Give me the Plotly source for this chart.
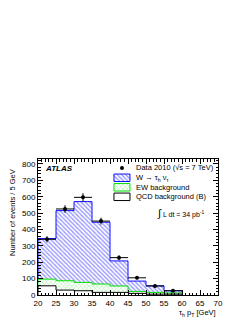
import plotly.graph_objects as go

# ---- data ----
bin_edges = [20, 25, 30, 35, 40, 45, 50, 55, 60]
data_counts = [340, 525, 596, 451, 228, 105, 55, 26]
data_err = [19, 23, 25, 21, 15, 10, 8, 5]
qcd_bkg = [56, 30, 26, 16, 16, 10, 5, 5]
ew_bkg = [41, 57, 51, 51, 39, 12, 11, 7]
w_signal = [248, 428, 493, 377, 153, 63, 40, 14]

x_ticks = [20, 25, 30, 35, 40, 45, 50, 55, 60, 65, 70]
y_ticks = [0, 100, 200, 300, 400, 500, 600, 700, 800]

legend_labels = ["Data 2010 (√s = 7 TeV)", "W → τ<sub>h</sub> ν<sub>τ</sub>",
                 "EW background", "QCD background (B)"]

FONT = "Liberation Sans, Arial, Helvetica, sans-serif"

BLUE_LINE, BLUE_HATCH = "#1010ff", "#3030ff"
GREEN_LINE, GREEN_HATCH = "#00e000", "#33dd33"

centers = [(a + b) / 2 for a, b in zip(bin_edges[:-1], bin_edges[1:])]
half_w = [(b - a) / 2 for a, b in zip(bin_edges[:-1], bin_edges[1:])]

cum_qcd = list(qcd_bkg)
cum_ew = [q + e for q, e in zip(qcd_bkg, ew_bkg)]
cum_tot = [c + s for c, s in zip(cum_ew, w_signal)]


def step(vals):
    xs = [bin_edges[0]] + list(bin_edges) + [bin_edges[-1]]
    ys = [0] + list(vals) + [vals[-1], 0]
    return xs, ys


blue_pat = dict(shape="\\", fgcolor=BLUE_HATCH, bgcolor="white", size=3, solidity=0.45)
green_pat = dict(shape="x", fgcolor=GREEN_HATCH, bgcolor="white", size=3, solidity=0.3)

fig = go.Figure()

xs, ys = step(cum_tot)
fig.add_trace(go.Scatter(x=xs, y=ys, mode="lines",
                         line=dict(shape="hv", color=BLUE_LINE, width=1),
                         fill="tozeroy", fillcolor="white", fillpattern=blue_pat,
                         showlegend=False))
xs, ys = step(cum_ew)
fig.add_trace(go.Scatter(x=xs, y=ys, mode="lines",
                         line=dict(shape="hv", color=GREEN_LINE, width=1),
                         fill="tozeroy", fillcolor="white", fillpattern=green_pat,
                         showlegend=False))
xs, ys = step(cum_qcd)
fig.add_trace(go.Scatter(x=xs, y=ys, mode="lines",
                         line=dict(shape="hv", color="black", width=1),
                         fill="tozeroy", fillcolor="white", showlegend=False))
fig.add_trace(go.Scatter(
    x=centers, y=data_counts, mode="markers",
    marker=dict(color="black", size=4),
    error_x=dict(type="data", array=half_w, width=0, thickness=1, color="black"),
    error_y=dict(type="data", array=data_err, width=0, thickness=1, color="black"),
    showlegend=False))

# ---- hand-made legend on an overlay axis (0..1 in both directions) ----
LX0, LX1, LTX = 0.422, 0.511, 0.535
row_y = [0.934, 0.862, 0.792, 0.722]
box_h = 0.055
fig.add_trace(go.Scatter(x=[(LX0 + LX1) / 2], y=[row_y[0]], mode="markers",
                         marker=dict(color="black", size=4), xaxis="x2", yaxis="y2",
                         showlegend=False, hoverinfo="skip"))
box_styles = [
    (BLUE_LINE, blue_pat),
    (GREEN_LINE, green_pat),
    ("black", None),
]
for (lc, pat), yc in zip(box_styles, row_y[1:]):
    kw = dict(fillpattern=pat) if pat else {}
    fig.add_trace(go.Scatter(
        x=[LX0, LX1, LX1, LX0, LX0],
        y=[yc - box_h / 2, yc - box_h / 2, yc + box_h / 2, yc + box_h / 2, yc - box_h / 2],
        mode="lines", line=dict(color=lc, width=1), fill="toself", fillcolor="white",
        xaxis="x2", yaxis="y2", showlegend=False, hoverinfo="skip", **kw))

annotations = []
for lab, yc in zip(legend_labels, row_y):
    annotations.append(dict(text=lab, x=LTX, y=yc, xref="x2", yref="y2",
                            xanchor="left", yanchor="middle", showarrow=False,
                            font=dict(family=FONT, size=7.5, color="black")))

annotations += [
    dict(text="<b><i>ATLAS</i></b>", x=0.025, y=0.975, xref="paper", yref="paper",
         xanchor="left", yanchor="top", showarrow=False,
         font=dict(family=FONT, size=8, color="black")),
    dict(text="<span style='font-size:11px'>∫</span> L dt = 34 pb<sup>-1</sup>",
         x=0.65, y=0.60, xref="paper", yref="paper",
         xanchor="left", yanchor="middle", showarrow=False,
         font=dict(family=FONT, size=7, color="black")),
    dict(text="τ<sub>h</sub> p<sub>T</sub> [GeV]", x=1.0, y=-0.13, xref="paper", yref="paper",
         xanchor="right", yanchor="middle", showarrow=False,
         font=dict(family=FONT, size=7.5, color="black")),
    dict(text="Number of events / 5 GeV", x=-0.145, y=0.61, xref="paper", yref="paper",
         xanchor="center", yanchor="middle", textangle=-90, showarrow=False,
         font=dict(family=FONT, size=7.5, color="black")),
]

axis_common = dict(
    showline=True, linecolor="black", linewidth=1, mirror="allticks",
    ticks="inside", tickcolor="black", ticklen=5, tickwidth=1,
    showgrid=False, zeroline=False, automargin=False,
    tickfont=dict(family=FONT, size=8, color="black"),
)

# the page adds an 8 px body margin, so the figure is 8 px smaller and margins shifted
fig.update_layout(
    width=241, height=315,
    margin=dict(l=30, r=31, t=151, b=28),
    paper_bgcolor="white", plot_bgcolor="white",
    font=dict(family=FONT, size=7, color="black"),
    showlegend=False,
    xaxis=dict(range=[20, 70], tickvals=x_ticks,
               minor=dict(dtick=1, ticks="inside", ticklen=2.5, tickcolor="black", showgrid=False),
               **axis_common),
    yaxis=dict(range=[0, 830], tickvals=y_ticks,
               minor=dict(dtick=20, ticks="inside", ticklen=2.5, tickcolor="black", showgrid=False),
               **axis_common),
    xaxis2=dict(range=[0, 1], overlaying="x", visible=False, fixedrange=True),
    yaxis2=dict(range=[0, 1], overlaying="y", visible=False, fixedrange=True),
    annotations=annotations,
)

fig.write_html("out.html")
